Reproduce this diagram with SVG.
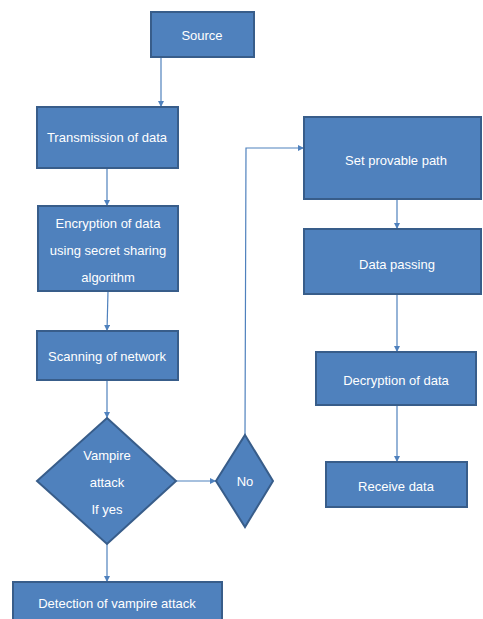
<svg xmlns="http://www.w3.org/2000/svg" width="483" height="619" viewBox="0 0 483 619">
<defs>
<style>
.n{fill:#4F81BD;stroke:#385D8A;stroke-width:2}
.t{fill:#fff;font-family:"Liberation Sans",Arial,sans-serif;font-size:13px;text-anchor:middle;dominant-baseline:central}
.c{fill:none;stroke:#4F81BD;stroke-width:1.2}
</style>
<marker id="a" markerWidth="6" markerHeight="6" refX="6" refY="3" orient="auto" markerUnits="userSpaceOnUse">
<path d="M0,0 L6,3 L0,6 Z" fill="#4F81BD"/>
</marker>
</defs>
<rect width="483" height="619" fill="#fff"/>
<g id="connectors">
<line class="c" x1="161" y1="57" x2="161" y2="107" marker-end="url(#a)"/>
<line class="c" x1="107" y1="168" x2="107" y2="206" marker-end="url(#a)"/>
<line class="c" x1="108" y1="291" x2="107" y2="331" marker-end="url(#a)"/>
<line class="c" x1="107" y1="380" x2="107" y2="418" marker-end="url(#a)"/>
<line class="c" x1="176" y1="481" x2="216" y2="481" marker-end="url(#a)"/>
<line class="c" x1="107" y1="544" x2="107" y2="582" marker-end="url(#a)"/>
<polyline class="c" points="245,435 246,148 304,148" marker-end="url(#a)"/>
<line class="c" x1="397" y1="199" x2="397" y2="229" marker-end="url(#a)"/>
<line class="c" x1="397" y1="294" x2="397" y2="352" marker-end="url(#a)"/>
<line class="c" x1="397" y1="405" x2="397" y2="462" marker-end="url(#a)"/>
</g>
<g id="source"><rect class="n" x="151" y="12" width="103" height="45"/><text class="t" x="202" y="35">Source</text></g>
<g id="transmission"><rect class="n" x="37" y="107" width="141" height="61"/><text class="t" x="107" y="137">Transmission of data</text></g>
<g id="encryption"><rect class="n" x="38" y="206" width="140" height="85"/><text class="t" x="108" y="223">Encryption of data</text><text class="t" x="108" y="250">using secret sharing</text><text class="t" x="108" y="277">algorithm</text></g>
<g id="scanning"><rect class="n" x="37" y="331" width="141" height="49"/><text class="t" x="107" y="356">Scanning of network</text></g>
<g id="vampire"><polygon class="n" points="107,418 176,481 107,544 37,481"/><text class="t" x="107" y="455">Vampire</text><text class="t" x="107" y="482">attack</text><text class="t" x="107" y="509">If yes</text></g>
<g id="no"><polygon class="n" points="245,435 273,481 245,527 216,481"/><text class="t" x="245" y="481">No</text></g>
<g id="detection"><rect class="n" x="13" y="582" width="209" height="45"/><text class="t" x="117" y="603">Detection of vampire attack</text></g>
<g id="setpath"><rect class="n" x="304" y="117" width="177" height="82"/><text class="t" x="396" y="160">Set provable path</text></g>
<g id="datapassing"><rect class="n" x="304" y="229" width="177" height="65"/><text class="t" x="397" y="264">Data passing</text></g>
<g id="decryption"><rect class="n" x="316" y="352" width="160" height="53"/><text class="t" x="396" y="380">Decryption of data</text></g>
<g id="receive"><rect class="n" x="326" y="462" width="141" height="45"/><text class="t" x="396" y="486">Receive data</text></g>
</svg>
